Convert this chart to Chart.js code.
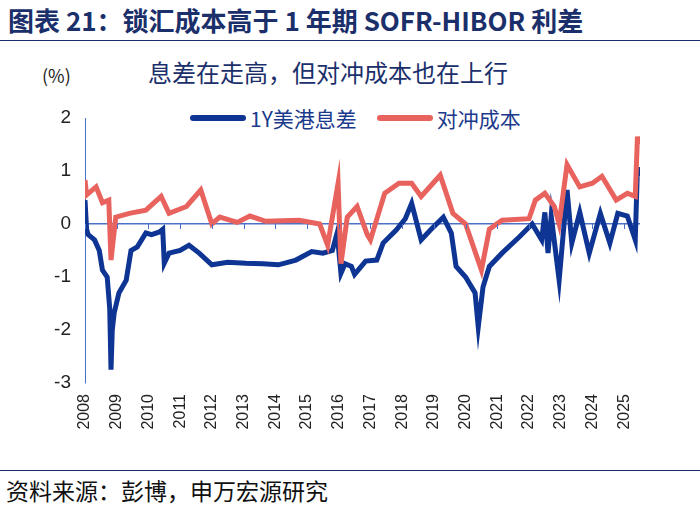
<!DOCTYPE html>
<html>
<head>
<meta charset="utf-8">
<script src="https://cdn.jsdelivr.net/npm/chart.js@4"></script>
<style>
  body { margin: 0; width: 700px; height: 507px; position: relative; background: #fff;
         font-family: "Noto Sans CJK SC", "Liberation Sans", sans-serif; overflow: hidden; }
  .title { position: absolute; left: 8px; top: 2px; font-size: 26px; line-height: 36px; font-weight: bold; color: #1b2f6b; white-space: nowrap; }
  .rule { position: absolute; left: 0; width: 700px; height: 1px; background: #1b2f6b; }
  .sub { position: absolute; top: 56px; left: 148px; font-size: 24px; line-height: 32px; color: #1b2f6b; white-space: nowrap; }
  .unit { position: absolute; top: 62px; left: 42px; font-size: 18px; color: #222; }
  .legend { position: absolute; top: 104px; left: 190px; font-size: 21px; line-height: 28px; color: #1b3a8c; display: flex; gap: 20px; white-space: nowrap; }
  .legend span { display: inline-flex; align-items: center; }
  .legend i { display: inline-block; width: 56px; height: 6px; border-radius: 3px; margin-right: 4px; }
  .source { position: absolute; top: 474px; left: 6px; font-size: 23px; line-height: 32px; color: #111; white-space: nowrap; }
  canvas { position: absolute; left: 0; top: 0; }
</style>
</head>
<body>
<div class="title">图表 21：锁汇成本高于 1 年期 SOFR-HIBOR 利差</div>
<div class="rule" style="top:40px"></div>
<div class="unit">(%)</div>
<div class="sub">息差在走高，但对冲成本也在上行</div>
<div class="legend">
  <span><i style="background:#0e3593"></i>1Y美港息差</span>
  <span><i style="background:#e8625e"></i>对冲成本</span>
</div>
<div class="rule" style="top:470px"></div>
<div class="source">资料来源：彭博，申万宏源研究</div>
<canvas id="chart" width="700" height="507"></canvas>
<script>
// 1Y US-HK spread (decimal year, %)
const spreadYears = [2008.0, 2008.05, 2008.1, 2008.3, 2008.45, 2008.55, 2008.7, 2008.78, 2008.82, 2008.86, 2008.92,
  2009.07, 2009.3, 2009.45, 2009.65, 2009.92, 2010.1, 2010.35, 2010.45, 2010.5, 2010.65, 2011.0, 2011.28, 2011.6,
  2012.0, 2012.5, 2013.07, 2013.6, 2014.1, 2014.65, 2015.15, 2015.5, 2015.8, 2015.95, 2016.07, 2016.2, 2016.4,
  2016.5, 2016.85, 2017.2, 2017.4, 2017.82, 2018.1, 2018.3, 2018.6, 2018.9, 2019.3, 2019.55, 2019.7, 2020.0,
  2020.3, 2020.4, 2020.55, 2020.75, 2021.15, 2021.7, 2022.1, 2022.4, 2022.5, 2022.6, 2022.7, 2022.95, 2023.2,
  2023.35, 2023.6, 2023.9, 2024.25, 2024.55, 2024.8, 2025.1, 2025.35, 2025.42, 2025.45];
const spreadValues = [0.45, -0.1, -0.2, -0.3, -0.5, -0.87, -1.0, -1.6, -2.75, -2.0, -1.68,
  -1.3, -1.06, -0.5, -0.43, -0.17, -0.2, -0.15, -0.1, -0.74, -0.55, -0.5, -0.4, -0.55,
  -0.77, -0.72, -0.74, -0.75, -0.77, -0.68, -0.52, -0.55, -0.5, -0.17, -0.93, -0.75, -0.8,
  -0.95, -0.7, -0.68, -0.36, -0.11, 0.1, 0.39, -0.3, -0.11, 0.13, -0.17, -0.8, -1.0,
  -1.3, -1.94, -1.19, -0.8, -0.55, -0.24, 0.0, -0.3, 0.22, -0.55, 0.15, -1.06, 0.64,
  -0.36, 0.22, -0.55, 0.2, -0.36, 0.2, 0.15, -0.3, 1.07, 0.9];

// Hedging cost (decimal year, %)
const costYears = [2008.0, 2008.05, 2008.35, 2008.55, 2008.75, 2008.82, 2008.97, 2009.4, 2009.92, 2010.4, 2010.65,
  2011.2, 2011.65, 2012.0, 2012.25, 2012.8, 2013.2, 2013.7, 2014.75, 2015.4, 2015.65, 2015.8, 2015.98, 2016.07,
  2016.27, 2016.58, 2016.9, 2017.0, 2017.45, 2017.9, 2018.3, 2018.6, 2019.2, 2019.6, 2020.0, 2020.5, 2020.75,
  2021.15, 2022.0, 2022.2, 2022.5, 2022.8, 2022.95, 2023.2, 2023.6, 2024.0, 2024.3, 2024.75, 2025.1, 2025.35,
  2025.42, 2025.45];
const costValues = [0.83, 0.55, 0.7, 0.4, 0.45, -0.68, 0.13, 0.2, 0.26, 0.52, 0.2,
  0.33, 0.64, 0.0, 0.13, 0.03, 0.15, 0.05, 0.07, 0.0, -0.4, 0.13, 0.77, -0.75,
  0.13, 0.33, -0.2, -0.3, 0.58, 0.77, 0.77, 0.52, 0.92, 0.2, 0.0, -0.87, -0.1,
  0.07, 0.1, 0.45, 0.58, 0.33, 0.0, 1.12, 0.7, 0.77, 0.9, 0.45, 0.58, 0.52,
  1.65, 1.5];

const yearTicks = [2008, 2009, 2010, 2011, 2012, 2013, 2014, 2015, 2016, 2017, 2018, 2019, 2020, 2021, 2022, 2023, 2024, 2025];
const yTicks = [2, 1, 0, -1, -2, -3];

const axisBlue = '#4a72c8';

// Small tick marks on the zero line at each year
const zeroTicks = {
    id: 'zeroTicks',
    afterDatasetsDraw(chart) {
        const { ctx, scales: { x, y } } = chart;
        const y0 = y.getPixelForValue(0);
        ctx.save();
        ctx.strokeStyle = axisBlue;
        ctx.lineWidth = 1;
        yearTicks.forEach(t => {
            const px = Math.round(x.getPixelForValue(t)) + 0.5;
            ctx.beginPath();
            ctx.moveTo(px, y0);
            ctx.lineTo(px, y0 + 5);
            ctx.stroke();
        });
        ctx.restore();
    }
};

new Chart(document.getElementById('chart'), {
    type: 'line',
    data: {
        datasets: [{
            label: '对冲成本',
            data: costYears.map((t, i) => ({ x: t, y: costValues[i] })),
            borderColor: '#e8625e',
            borderWidth: 5,
            pointRadius: 0,
            tension: 0
        }, {
            label: '1Y美港息差',
            data: spreadYears.map((t, i) => ({ x: t, y: spreadValues[i] })),
            borderColor: '#0e3593',
            borderWidth: 5,
            pointRadius: 0,
            tension: 0
        }]
    },
    options: {
        responsive: false,
        animation: false,
        layout: { padding: { top: 118, right: 60, bottom: 52, left: 0 } },
        plugins: { legend: { display: false }, tooltip: { enabled: false } },
        scales: {
            x: {
                type: 'linear',
                min: 2008,
                max: 2025.5,
                afterBuildTicks: axis => { axis.ticks = yearTicks.map(v => ({ value: v })); },
                afterFit: axis => { axis.height = 72; },
                ticks: {
                    minRotation: 90,
                    maxRotation: 90,
                    color: '#222',
                    font: { size: 16, family: 'Liberation Sans' },
                    callback: v => String(v)
                },
                grid: { display: false },
                border: { display: false }
            },
            y: {
                min: -3,
                max: 2,
                afterBuildTicks: axis => { axis.ticks = yTicks.map(v => ({ value: v })); },
                afterFit: axis => { axis.width = 85; },
                ticks: {
                    color: '#222',
                    padding: 14,
                    font: { size: 19, family: 'Liberation Sans' }
                },
                grid: {
                    color: c => c.tick && c.tick.value === 0 ? axisBlue : 'transparent',
                    lineWidth: 1.5,
                    drawTicks: false
                },
                border: { color: axisBlue, width: 1 }
            }
        }
    },
    plugins: [zeroTicks]
});
</script>
</body>
</html>
